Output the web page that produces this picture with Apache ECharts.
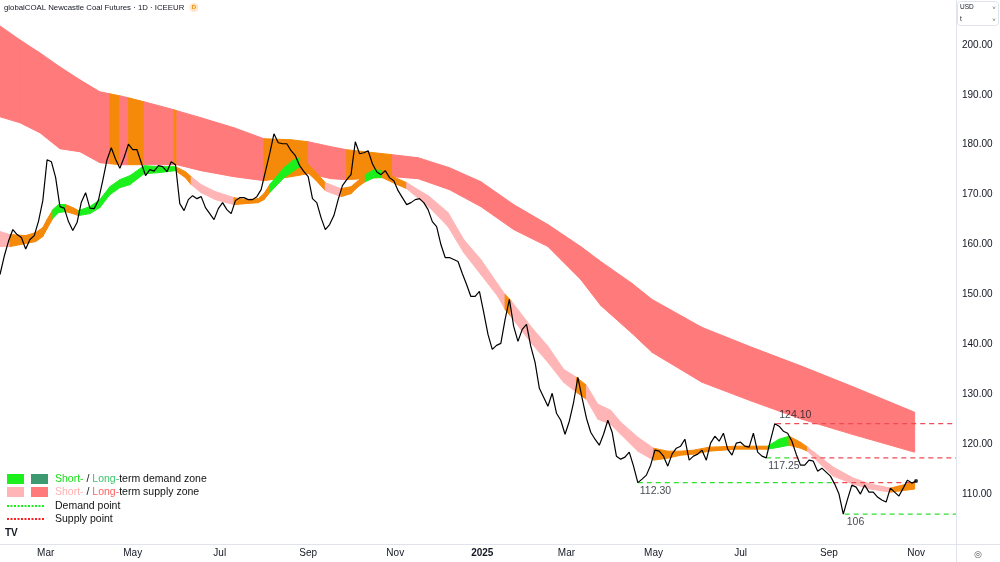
<!DOCTYPE html>
<html>
<head>
<meta charset="utf-8">
<title>globalCOAL Newcastle Coal Futures</title>
<script src="https://cdn.jsdelivr.net/npm/echarts@6/dist/echarts.min.js"></script>
<style>
  html, body { margin: 0; padding: 0; background: #fff; }
  #chart { width: 1000px; height: 562px; }
</style>
</head>
<body>
<div id="chart"></div>
<script>
// Daily closes, sampled every 3 days from priceStart
const priceStart = '2024-01-29';
const priceStepDays = 3;
const priceValues = [
  154.0, 157.7, 160.7, 163.0, 162.0, 161.4, 159.1, 161.0, 161.8, 164.7,
  168.8, 177.0, 176.6, 173.4, 167.6, 167.3, 164.6, 162.8, 164.4, 168.5,
  170.4, 167.3, 167.2, 168.9, 172.8, 177.0, 179.4, 177.1, 175.3, 177.5,
  180.1, 179.0, 179.0, 176.4, 173.8, 175.0, 174.7, 175.8, 175.6, 174.6,
  176.6, 176.0, 168.2, 166.8, 169.0, 169.8, 169.2, 169.6, 167.4, 166.2,
  165.0, 167.2, 168.4, 167.0, 166.2, 168.8, 169.4, 169.4, 169.0, 169.0,
  169.6, 171.0, 174.6, 178.2, 182.2, 180.4, 180.2, 180.2, 178.8, 177.8,
  175.8, 174.6, 173.6, 169.2, 168.4, 165.4, 163.0, 164.0, 165.8, 169.0,
  171.8, 173.0, 174.0, 180.6, 178.2, 178.4, 178.8, 176.2, 174.6, 174.0,
  174.8, 173.4, 172.8, 170.8, 169.4, 168.0, 168.4, 169.0, 169.2, 168.4,
  167.0, 164.6, 163.6, 160.0, 157.4, 157.4, 157.0, 156.6, 154.2, 152.0,
  149.6, 149.6, 150.6, 146.4, 142.0, 139.0, 139.8, 140.2, 145.0, 149.0,
  143.6, 140.6, 143.0, 144.0, 139.6, 136.4, 131.2, 129.4, 127.6, 130.2,
  126.2, 124.8, 122.0, 124.6, 128.4, 133.4, 129.2, 125.2, 122.4, 121.0,
  119.8, 122.0, 124.8, 122.4, 117.6, 117.0, 117.4, 118.4, 115.6, 112.3,
  113.0, 113.8, 115.8, 118.8, 118.6, 117.6, 115.6, 118.0, 119.2, 119.6,
  121.0, 116.8, 117.6, 118.0, 118.8, 116.8, 120.2, 121.6, 120.6, 122.2,
  119.0, 117.8, 120.2, 120.4, 119.6, 119.4, 122.2, 118.4, 117.6, 117.25,
  120.8, 124.1, 123.6, 122.6, 122.2, 120.6, 118.0, 115.8, 115.8, 116.8,
  116.6, 114.6, 115.2, 114.4, 113.6, 112.0, 110.0, 106.0, 109.0, 111.8,
  111.4, 110.0, 111.8, 110.4, 110.4, 109.4, 108.8, 108.4, 111.2, 110.4,
  109.6, 111.2, 112.8, 112.2, 112.6
];

// Long-term zone (red band); state is for the piece from a date to the next one
const longDates = ['2024-01-29', '2024-02-12', '2024-02-26', '2024-03-11', '2024-03-25', '2024-04-08',
  '2024-04-15', '2024-04-22', '2024-04-28', '2024-05-09', '2024-05-30', '2024-06-01', '2024-06-18',
  '2024-07-11', '2024-08-01', '2024-08-20', '2024-09-01', '2024-09-17', '2024-09-28', '2024-10-30',
  '2024-11-17', '2024-12-09', '2024-12-31', '2025-01-23', '2025-02-16', '2025-03-11', '2025-03-25',
  '2025-04-16', '2025-04-30', '2025-06-04', '2025-07-09', '2025-08-13', '2025-09-17', '2025-10-31'];
const longTop = [203.8, 201.0, 198.4, 195.6, 193.0, 190.6, 190.2, 189.8, 189.4, 188.6, 187.0, 186.8, 185.4,
  183.4, 181.2, 181.0, 180.6, 179.6, 179.0, 178.0, 177.4, 175.4, 172.6, 168.0, 164.0, 159.6, 156.6,
  152.2, 149.0, 143.4, 139.4, 135.6, 131.6, 126.4];
const longBottom = [185.6, 184.4, 182.4, 179.2, 178.6, 176.4, 176.2, 176.0, 176.0, 176.0, 176.0, 176.0, 174.8,
  173.6, 172.8, 173.6, 174.2, 173.2, 173.0, 173.6, 173.2, 171.0, 167.6, 163.0, 159.6, 153.0, 147.8,
  142.2, 138.4, 132.4, 128.6, 125.0, 122.0, 118.4];
const longState = 'ssssssnsnsnsssnnssnssssssssssssss'.split('');

// Short-term zone (thin band following price)
const shortDates = ['2024-01-29', '2024-02-05', '2024-02-16', '2024-02-23', '2024-02-28', '2024-03-02',
  '2024-03-06', '2024-03-10', '2024-03-15', '2024-03-20', '2024-03-24', '2024-04-01', '2024-04-08',
  '2024-04-15', '2024-04-22', '2024-04-29', '2024-05-09', '2024-05-19', '2024-05-31', '2024-06-07',
  '2024-06-11', '2024-06-18', '2024-06-28', '2024-07-11', '2024-07-19', '2024-07-28', '2024-08-01',
  '2024-08-05', '2024-08-15', '2024-08-21', '2024-08-26', '2024-08-31', '2024-09-06', '2024-09-13',
  '2024-09-24', '2024-10-01', '2024-10-06', '2024-10-11', '2024-10-17', '2024-10-23', '2024-11-01',
  '2024-11-09', '2024-11-25', '2024-12-08', '2024-12-19', '2024-12-31', '2025-01-12', '2025-01-17',
  '2025-01-21', '2025-02-04', '2025-02-16', '2025-02-27', '2025-03-08', '2025-03-15', '2025-03-23',
  '2025-04-01', '2025-04-08', '2025-04-20', '2025-05-01', '2025-05-11', '2025-05-20', '2025-05-29',
  '2025-06-09', '2025-06-28', '2025-07-20', '2025-07-28', '2025-08-04', '2025-08-12', '2025-08-17',
  '2025-08-26', '2025-09-04', '2025-09-18', '2025-09-30', '2025-10-14', '2025-10-31'];
const shortTop = [162.6, 162.0, 161.8, 162.4, 163.4, 165.0, 167.0, 168.0, 168.0, 167.4,
  166.8, 167.6, 169.0, 171.6, 173.0, 173.8, 175.8, 175.6, 175.6, 174.6,
  173.6, 172.0, 170.6, 169.4, 169.0, 169.2, 170.2, 172.0, 175.4, 176.8,
  177.4, 176.4, 174.6, 172.4, 171.2, 171.6, 172.8, 174.0, 175.0, 174.8,
  173.4, 172.4, 169.6, 166.4, 161.0, 157.0, 152.0, 150.0, 148.8, 143.6,
  139.6, 135.0, 133.4, 131.8, 128.0, 126.8, 124.4, 121.4, 119.2, 118.6,
  118.6, 118.8, 119.4, 119.6, 119.6, 121.0, 121.6, 120.4, 119.4, 117.4,
  115.4, 113.2, 112.0, 111.2, 112.4];
const shortBottom = [159.6, 159.6, 160.2, 160.6, 161.6, 163.2, 165.2, 166.4, 166.6, 166.2,
  165.8, 166.2, 167.4, 170.0, 171.4, 172.0, 174.2, 174.4, 174.8, 173.4,
  172.0, 170.4, 169.0, 168.0, 168.2, 168.4, 169.0, 170.4, 173.4, 174.6,
  175.6, 174.6, 173.0, 170.8, 169.6, 170.2, 171.6, 172.6, 173.4, 173.4,
  172.2, 171.2, 167.4, 163.6, 158.4, 154.0, 149.6, 147.0, 145.6, 140.4,
  136.4, 132.4, 130.4, 129.0, 125.0, 124.0, 122.0, 118.6, 116.8, 117.2,
  117.8, 118.0, 118.6, 119.0, 119.0, 119.4, 119.8, 119.2, 118.6, 116.0,
  113.6, 112.0, 111.0, 110.4, 111.0];
const shortState = ('snnnnnddnn' + 'ddddddddnn' + 'sssnnnnddd' + 'nnnsnnnddn' +
  'nssssssnss' + 'ssnsssssnn' + 'nnnnddnnss' + 'sssn').split('');

// Demand / supply points
const levelValues = [124.10, 117.25, 112.30, 106];
const levelLabels = ['124.10', '117.25', '112.30', '106'];
const levelDates = ['2025-07-26', '2025-07-19', '2025-04-20', '2025-09-12'];
const levelAbove = [true, false, false, false];
const pieceValue = [124.10, 117.25, 117.25, 112.30, 112.30, 106];
const pieceFrom = ['2025-07-26', '2025-07-19', '2025-08-07', '2025-04-20', '2025-09-04', '2025-09-12'];
const pieceTo = ['2025-11-29', '2025-08-07', '2025-11-29', '2025-09-04', '2025-10-31', '2025-11-29'];
const pieceKind = ['supply', 'demand', 'supply', 'demand', 'supply', 'demand'];

// Axis ticks
const xTickDates = ['2024-03-01', '2024-05-01', '2024-07-01', '2024-09-01', '2024-11-01', '2025-01-01',
  '2025-03-01', '2025-05-01', '2025-07-01', '2025-09-01', '2025-11-01'];
const xTickLabels = ['Mar', 'May', 'Jul', 'Sep', 'Nov', '2025', 'Mar', 'May', 'Jul', 'Sep', 'Nov'];

const DAY = 86400000;
const ts = s => new Date(s + 'T00:00:00').getTime();
const FONT = '"Liberation Sans", Arial, sans-serif';

const longColors = { s: '#ff7a7a', n: '#f5890a' };
const shortColors = { s: '#ffb5b5', n: '#f5890a', d: '#1cf01c' };
const levelColors = { demand: '#2fe02f', supply: '#ee4b55' };

// one filled quad per piece of a band, coloured by its state
function bandSeries(name, dates, top, bottom, state, colors, z) {
  const data = [];
  for (let i = 0; i < dates.length - 1; i++) {
    data.push([ts(dates[i]), top[i], bottom[i], ts(dates[i + 1]), top[i + 1], bottom[i + 1]]);
  }
  return {
    type: 'custom', name: name, z: z, silent: true, clip: true,
    encode: { x: [0, 3], y: [1, 2, 4, 5] },
    renderItem: function (params, api) {
      const p1 = api.coord([api.value(0), api.value(1)]);
      const p2 = api.coord([api.value(3), api.value(4)]);
      const p3 = api.coord([api.value(3), api.value(5)]);
      const p4 = api.coord([api.value(0), api.value(2)]);
      const c = colors[state[params.dataIndex]];
      return {
        type: 'polygon',
        shape: { points: [p1, p2, p3, p4] },
        style: { fill: c, stroke: c, lineWidth: 1 }
      };
    },
    data: data
  };
}

const t0 = ts(priceStart);
const priceData = priceValues.map((v, i) => [t0 + i * priceStepDays * DAY, v]);
const tickTimes = xTickDates.map(ts);

const levelSeries = pieceValue.map((v, i) => ({
  type: 'line', silent: true, z: 4, symbol: 'none',
  lineStyle: { color: levelColors[pieceKind[i]], width: 1.2, type: [5, 4] },
  data: [[ts(pieceFrom[i]), v], [ts(pieceTo[i]), v]]
}));

const levelLabelSeries = {
  type: 'scatter', silent: true, z: 6, symbolSize: 0,
  data: levelValues.map((v, i) => ({
    value: [ts(levelDates[i]), v],
    label: {
      show: true,
      formatter: levelLabels[i],
      position: levelAbove[i] ? [3, -14] : [2, 3],
      align: 'left',
      color: '#131722',
      fontSize: 10.5,
      fontFamily: FONT
    }
  }))
};

const chart = echarts.init(document.getElementById('chart'));

// legend drawn by hand, like the indicator's own panel
const legendItems = [
  { type: 'rect', shape: { x: 7, y: 474, width: 17, height: 10 }, style: { fill: '#1cf01c' } },
  { type: 'rect', shape: { x: 31, y: 474, width: 17, height: 10 }, style: { fill: '#3d9970' } },
  { type: 'rect', shape: { x: 7, y: 487, width: 17, height: 10 }, style: { fill: '#ffb5b5' } },
  { type: 'rect', shape: { x: 31, y: 487, width: 17, height: 10 }, style: { fill: '#ff7a7a' } },
  { type: 'line', shape: { x1: 7, y1: 506, x2: 44, y2: 506 }, style: { stroke: '#1cf01c', lineWidth: 2.2, lineDash: [2, 1.5] } },
  { type: 'line', shape: { x1: 7, y1: 519, x2: 44, y2: 519 }, style: { stroke: '#ff1f1f', lineWidth: 2.2, lineDash: [2, 1.5] } },
  {
    type: 'text', x: 55, y: 479,
    style: {
      text: '{a|Short-} / {b|Long-}term demand zone', fontSize: 10.5, fontFamily: FONT, fill: '#111',
      verticalAlign: 'middle',
      rich: { a: { fill: '#18e018', fontSize: 10.5, fontFamily: FONT }, b: { fill: '#3ec46d', fontSize: 10.5, fontFamily: FONT } }
    }
  },
  {
    type: 'text', x: 55, y: 492,
    style: {
      text: '{a|Short-} / {b|Long-}term supply zone', fontSize: 10.5, fontFamily: FONT, fill: '#111',
      verticalAlign: 'middle',
      rich: { a: { fill: '#ffb0b0', fontSize: 10.5, fontFamily: FONT }, b: { fill: '#ff6464', fontSize: 10.5, fontFamily: FONT } }
    }
  },
  { type: 'text', x: 55, y: 506, style: { text: 'Demand point', fontSize: 10.5, fontFamily: FONT, fill: '#111', verticalAlign: 'middle' } },
  { type: 'text', x: 55, y: 519, style: { text: 'Supply point', fontSize: 10.5, fontFamily: FONT, fill: '#111', verticalAlign: 'middle' } },
  { type: 'text', x: 5, y: 533, style: { text: 'TV', fontSize: 10, fontWeight: 900, fontFamily: FONT, fill: '#131722', verticalAlign: 'middle' } }
];

const frameItems = [
  { type: 'text', x: 4, y: 8, style: { text: 'globalCOAL Newcastle Coal Futures · 1D · ICEEUR', fontSize: 7.8, fontFamily: FONT, fill: '#131722', verticalAlign: 'middle' } },
  { type: 'circle', shape: { cx: 194, cy: 7.5, r: 4.5 }, style: { fill: '#fde7cc' } },
  { type: 'text', x: 194, y: 7.5, style: { text: 'D', fontSize: 6, fontWeight: 'bold', fontFamily: FONT, fill: '#f08c00', align: 'center', verticalAlign: 'middle' } },
  { type: 'rect', shape: { x: 957.5, y: 1.5, width: 41, height: 24, r: 3 }, style: { fill: '#fff', stroke: '#e0e3eb', lineWidth: 1 } },
  { type: 'text', x: 960, y: 7.5, style: { text: 'USD', fontSize: 6.5, fontFamily: FONT, fill: '#131722', verticalAlign: 'middle' } },
  { type: 'text', x: 960, y: 19.5, style: { text: 't', fontSize: 6.5, fontFamily: FONT, fill: '#131722', verticalAlign: 'middle' } },
  { type: 'text', x: 994, y: 8, style: { text: '˅', fontSize: 6, fontFamily: FONT, fill: '#555', align: 'center', verticalAlign: 'middle' } },
  { type: 'text', x: 994, y: 20, style: { text: '˅', fontSize: 6, fontFamily: FONT, fill: '#555', align: 'center', verticalAlign: 'middle' } },
  { type: 'line', shape: { x1: 956.5, y1: 544, x2: 956.5, y2: 562 }, style: { stroke: '#e0e3eb', lineWidth: 1 } },
  { type: 'line', shape: { x1: 956, y1: 544.5, x2: 1000, y2: 544.5 }, style: { stroke: '#e0e3eb', lineWidth: 1 } },
  { type: 'text', x: 978, y: 555, style: { text: '◎', fontSize: 9, fontFamily: '"DejaVu Sans", sans-serif', fill: '#555', align: 'center', verticalAlign: 'middle' } }
];

chart.setOption({
  animation: false,
  backgroundColor: '#ffffff',
  grid: { left: 0, right: 44, top: 0, bottom: 18 },
  xAxis: {
    type: 'value',
    min: ts('2024-01-29'),
    max: ts('2025-11-29'),
    axisLine: { show: true, lineStyle: { color: '#e0e3eb' } },
    axisTick: { show: false },
    splitLine: { show: false },
    axisLabel: {
      customValues: tickTimes,
      margin: 4,
      color: '#131722',
      fontSize: 10,
      fontFamily: FONT,
      formatter: function (value) {
        const i = tickTimes.indexOf(value);
        if (i < 0) return '';
        return xTickLabels[i] === '2025' ? '{y|2025}' : xTickLabels[i];
      },
      rich: { y: { fontWeight: 'bold', fontSize: 10, fontFamily: FONT, color: '#131722' } }
    }
  },
  yAxis: {
    type: 'value',
    position: 'right',
    min: 100,
    max: 209,
    interval: 10,
    axisLine: { show: true, lineStyle: { color: '#e0e3eb' } },
    axisTick: { show: false },
    splitLine: { show: false },
    axisLabel: {
      margin: 6,
      color: '#131722',
      fontSize: 10,
      fontFamily: FONT,
      formatter: function (v) {
        return (v >= 110 && v <= 200 && v % 10 === 0) ? v.toFixed(2) : '';
      }
    }
  },
  series: [
    bandSeries('Long-term zone', longDates, longTop, longBottom, longState, longColors, 1),
    bandSeries('Short-term zone', shortDates, shortTop, shortBottom, shortState, shortColors, 2),
    ...levelSeries,
    {
      type: 'line', name: 'Price', z: 5, symbol: 'none', silent: true,
      lineStyle: { color: '#000', width: 1.2 },
      data: priceData
    },
    {
      type: 'scatter', z: 6, silent: true, symbolSize: 4,
      itemStyle: { color: '#000' },
      data: [priceData[priceData.length - 1]]
    },
    levelLabelSeries
  ],
  graphic: legendItems.concat(frameItems)
});
</script>
</body>
</html>
